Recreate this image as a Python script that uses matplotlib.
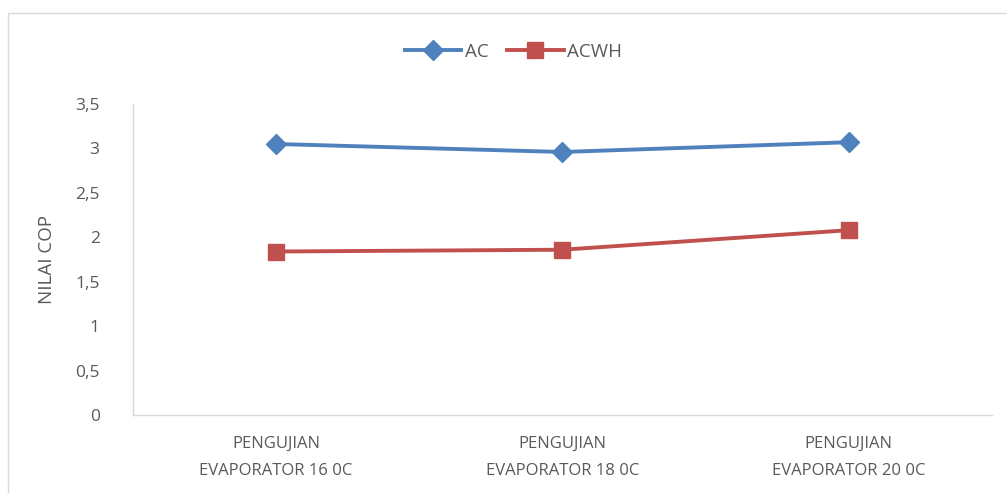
import matplotlib.pyplot as plt
from matplotlib.patches import Rectangle

categories = ["PENGUJIAN\nEVAPORATOR 16 0C",
              "PENGUJIAN\nEVAPORATOR 18 0C",
              "PENGUJIAN\nEVAPORATOR 20 0C"]
ac_values = [3.05, 2.96, 3.07]
acwh_values = [1.84, 1.86, 2.08]
y_ticks = [0, 0.5, 1, 1.5, 2, 2.5, 3, 3.5]
y_tick_labels = ["0", "0,5", "1", "1,5", "2", "2,5", "3", "3,5"]

TEXT = "#595959"
plt.rcParams["font.family"] = ["Open Sans", "DejaVu Sans"]

fig = plt.figure(figsize=(10.07, 4.93), dpi=100)
ax = fig.add_axes([133 / 1007, 78 / 493, 859 / 1007, 311 / 493])

# outer chart border (cut off at right/bottom in the reference)
fig.patches.append(Rectangle((8 / 1007, -0.05), 1.2, (493 - 13) / 493 + 0.05,
                             transform=fig.transFigure, fill=False,
                             edgecolor="#d9d9d9", linewidth=1.0))

x = range(len(categories))
ax.plot(x, ac_values, color="#4f81bd", linewidth=2.8, marker="D",
        markersize=10, label="AC")
ax.plot(x, acwh_values, color="#c0504d", linewidth=2.8, marker="s",
        markersize=11, label="ACWH")

ax.set_xlim(-0.5, 2.5)
ax.set_ylim(0, 3.5)
ax.set_yticks(y_ticks)
ax.set_yticklabels(y_tick_labels)
ax.set_xticks(list(x))
ax.set_xticklabels(categories, linespacing=1.9)
ax.tick_params(axis="y", length=0, colors=TEXT, labelsize=12.5, pad=24)
ax.tick_params(axis="x", length=0, colors=TEXT, labelsize=12, pad=15)

for side in ["top", "right"]:
    ax.spines[side].set_visible(False)
for side in ["left", "bottom"]:
    ax.spines[side].set_color("#d9d9d9")
    ax.spines[side].set_linewidth(1.0)

ax.set_ylabel("NILAI COP", color=TEXT, fontsize=13.5, labelpad=14)

fig.legend(loc="center", bbox_to_anchor=(0.51, 1 - 52 / 493), ncol=2,
           frameon=False, fontsize=13.5, labelcolor=TEXT, handlelength=3.0,
           columnspacing=1.0, handletextpad=0.2)

fig.savefig("out.png", dpi=100)
